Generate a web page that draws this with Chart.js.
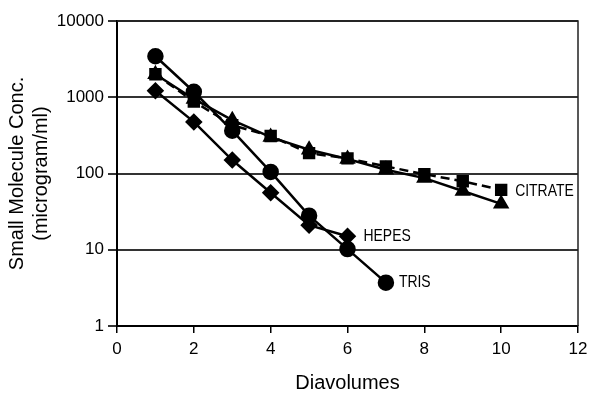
<!DOCTYPE html>
<html lang="en">
<head>
  <meta charset="UTF-8" />
  <title>Small Molecule Clearance</title>
  <script src="https://cdn.jsdelivr.net/npm/chart.js"></script>
</head>
<body style="margin: 0; padding: 0; background: #fff;">
  <div style="width: 589px; height: 395px; position: relative;">
    <canvas id="clearChart" width="589" height="395"></canvas>
  </div>

  <script>
    const diavolumes = [1, 2, 3, 4, 5, 6, 7, 8, 9, 10];
    const trisValues = [3450, 1180, 365, 105, 28, 10.2, 3.7];
    const hepesValues = [1220, 475, 150, 56, 21, 15];
    const citrateValues = [2000, 880, 430, 310, 185, 158, 124, 98, 79, 61];
    const triangleValues = [2000, 950, 500, 300, 205, 155, 112, 87, 59, 40];
    const yTicks = [1, 10, 100, 1000, 10000];
    const seriesLabels = ['TRIS', 'HEPES', 'CITRATE'];

    const toPoints = vals => vals.map((v, i) => ({ x: diavolumes[i], y: v }));
    const FONT = "'Liberation Sans', Arial, sans-serif";

    // outline box + end labels
    const boxAndLabels = {
      id: 'boxAndLabels',
      afterDatasetsDraw(chart) {
        const { ctx, chartArea: a } = chart;
        ctx.save();
        ctx.strokeStyle = '#222';
        ctx.lineWidth = 1.5;
        ctx.beginPath();
        ctx.moveTo(a.left, a.top);
        ctx.lineTo(a.right, a.top);
        ctx.lineTo(a.right, a.bottom);
        ctx.stroke();

        ctx.fillStyle = '#000';
        ctx.font = '17px ' + FONT;
        ctx.textBaseline = 'middle';
        const ends = [[0, trisValues, 13, 0], [1, hepesValues, 16, 0], [2, citrateValues, 14, 1]];
        ends.forEach(([k, vals, dx, dy]) => {
          const i = vals.length - 1;
          const px = chart.scales.x.getPixelForValue(diavolumes[i]);
          const py = chart.scales.y.getPixelForValue(vals[i]);
          // labels in the original are set in a narrow face
          ctx.save();
          ctx.translate(px + dx, py + dy);
          ctx.scale(0.82, 1);
          ctx.fillText(seriesLabels[k], 0, 0);
          ctx.restore();
        });
        ctx.restore();
      }
    };

    const base = {
      borderColor: '#000',
      backgroundColor: '#000',
      pointBackgroundColor: '#000',
      pointBorderColor: '#000',
      borderWidth: 2.5,
      tension: 0
    };

    new Chart(document.getElementById('clearChart').getContext('2d'), {
      type: 'line',
      data: {
        datasets: [
          { ...base, label: 'triangle', data: toPoints(triangleValues), pointStyle: 'triangle', pointRadius: 7 },
          { ...base, label: 'CITRATE', data: toPoints(citrateValues), pointStyle: 'rect', pointRadius: 7, borderDash: [9, 5] },
          { ...base, label: 'HEPES', data: toPoints(hepesValues), pointStyle: 'rectRot', pointRadius: 7 },
          { ...base, label: 'TRIS', data: toPoints(trisValues), pointStyle: 'circle', pointRadius: 7 }
        ]
      },
      options: {
        responsive: false,
        animation: false,
        layout: { padding: { top: 21, right: 11, left: 5, bottom: 0 } },
        plugins: { legend: { display: false }, tooltip: { enabled: false } },
        scales: {
          x: {
            type: 'linear',
            min: 0,
            max: 12,
            ticks: { stepSize: 2, color: '#000', font: { size: 17, family: FONT }, padding: 6 },
            grid: { drawOnChartArea: false, drawTicks: true, tickLength: 7, color: '#000', lineWidth: 1.5 },
            border: { color: '#000', width: 2 },
            title: { display: true, text: 'Diavolumes', color: '#000', font: { size: 20, family: FONT }, padding: 0 },
            afterFit(s) { s.height = 69; s.paddingRight = 0; }
          },
          y: {
            type: 'logarithmic',
            min: 1,
            max: 10000,
            afterBuildTicks(s) { s.ticks = yTicks.map(v => ({ value: v })); },
            ticks: { color: '#000', font: { size: 17, family: FONT }, padding: 4, callback: v => String(v) },
            grid: { color: '#333', lineWidth: 2, tickLength: 9 },
            border: { color: '#000', width: 2 },
            title: { display: true, text: ['Small Molecule Conc.', '(microgram/ml)'], color: '#000', font: { size: 20, family: FONT }, padding: 0 },
            afterFit(s) { s.width = 112; }
          }
        }
      },
      plugins: [boxAndLabels]
    });
  </script>
</body>
</html>
